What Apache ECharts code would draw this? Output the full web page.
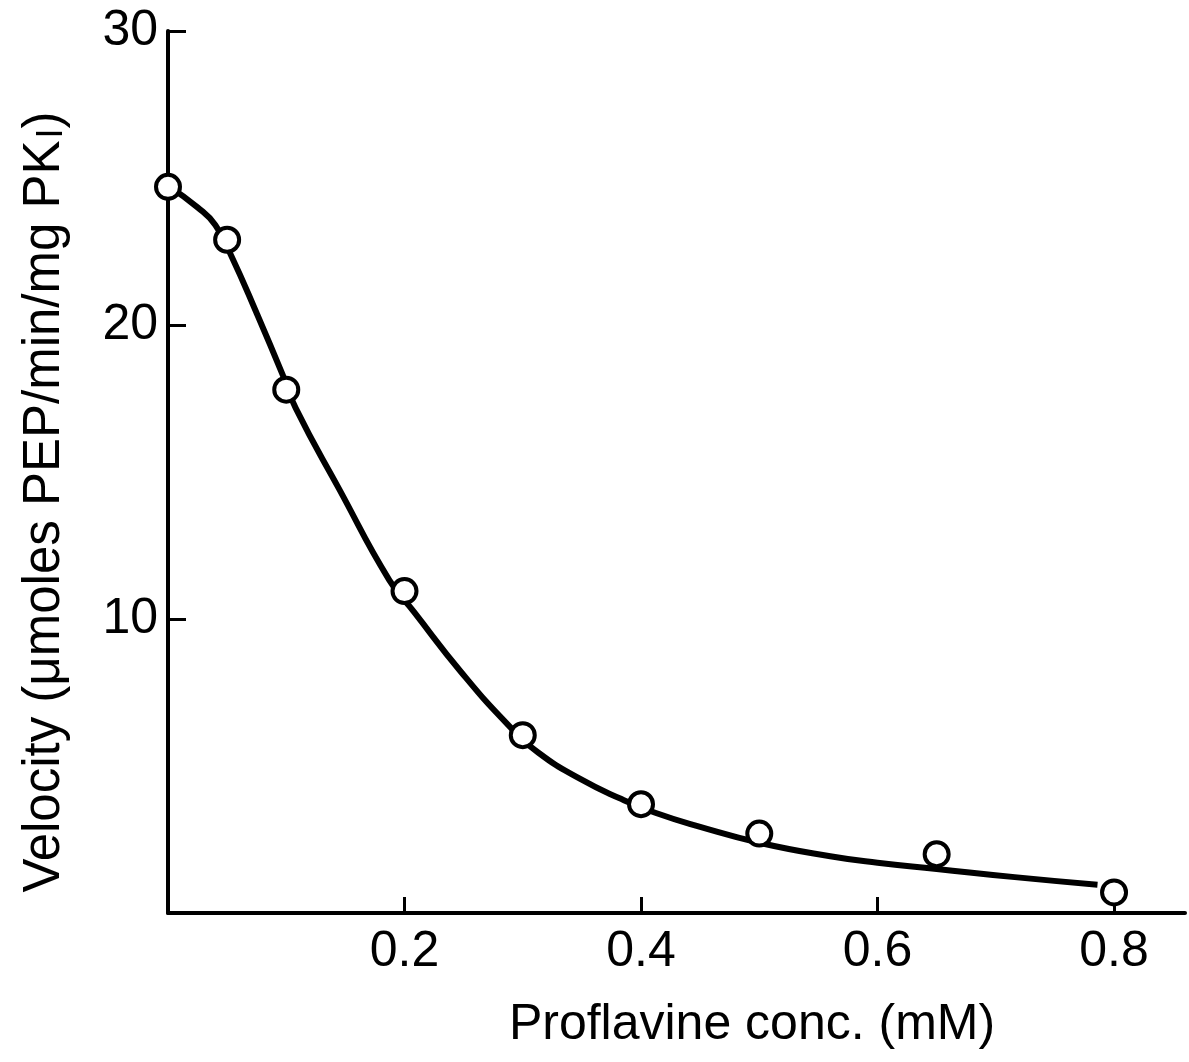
<!DOCTYPE html>
<html>
<head>
<meta charset="utf-8">
<script src="https://cdn.jsdelivr.net/npm/echarts@6/dist/echarts.min.js"></script>
<style>
html, body { margin: 0; padding: 0; background: #fff; }
#chart { width: 1189px; height: 1062px; }
</style>
</head>
<body>
<div id="chart"></div>
<script>
// measured points (open circles)
const concPoints = [0.0, 0.05, 0.1, 0.2, 0.3, 0.4, 0.5, 0.65, 0.8]
const velocityPoints = [24.7, 22.9, 17.8, 10.95, 6.05, 3.7, 2.7, 2.0, 0.7]

// hand-drawn fitted curve
const curveConc = [0, 0.025, 0.04, 0.053, 0.075, 0.097, 0.108, 0.145, 0.187, 0.208, 0.248, 0.288, 0.313, 0.349, 0.382, 0.412, 0.45, 0.5, 0.56, 0.6, 0.65, 0.716, 0.786]
const curveVelocity = [24.74, 24.0, 23.4, 22.4, 20.4, 18.3, 17.17, 14.4, 11.33, 10.24, 8.19, 6.38, 5.46, 4.55, 3.9, 3.41, 2.93, 2.39, 1.93, 1.71, 1.5, 1.22, 0.96]

const xTicks = [0.2, 0.4, 0.6, 0.8]
const yTicks = [10, 20, 30]

const font = '"Liberation Sans", "DejaVu Sans", sans-serif'

const chart = echarts.init(document.getElementById('chart'))
chart.setOption({
  animation: false,
  backgroundColor: '#fff',
  grid: { left: 168, right: 4, top: 31, bottom: 149 },
  xAxis: {
    type: 'value',
    min: 0,
    max: 0.86,
    axisLine: { lineStyle: { color: '#000', width: 4 } },
    axisTick: { inside: true, length: 16, lineStyle: { color: '#000', width: 3 }, customValues: xTicks },
    axisLabel: { color: '#000', fontSize: 50, fontFamily: font, margin: 14, customValues: xTicks, formatter: v => v.toFixed(1) },
    splitLine: { show: false }
  },
  yAxis: {
    type: 'value',
    min: 0,
    max: 30,
    axisLine: { show: true, lineStyle: { color: '#000', width: 4 } },
    axisTick: { show: true, inside: true, length: 18, lineStyle: { color: '#000', width: 3 }, customValues: yTicks },
    axisLabel: { color: '#000', fontSize: 50, fontFamily: font, margin: 10, customValues: yTicks },
    splitLine: { show: false }
  },
  graphic: [
    {
      type: 'text',
      x: 45,
      y: 502,
      rotation: Math.PI / 2,
      style: {
        text: 'Velocity (μmoles PEP/min/mg PK{sub|I})',
        fill: '#000',
        font: '51px ' + font,
        align: 'center',
        verticalAlign: 'middle',
        rich: { sub: { fontSize: 36, fontFamily: font, fill: '#000', padding: [14, 0, 0, 2] } }
      }
    },
    {
      type: 'text',
      x: 752,
      y: 1025,
      style: {
        text: 'Proflavine conc. (mM)',
        fill: '#000',
        font: '50px ' + font,
        align: 'center',
        verticalAlign: 'middle'
      }
    }
  ],
  series: [
    {
      type: 'line',
      data: curveConc.map((x, i) => [x, curveVelocity[i]]),
      smooth: 0.5,
      showSymbol: false,
      lineStyle: { color: '#000', width: 6 },
      z: 2
    },
    {
      type: 'scatter',
      data: concPoints.map((x, i) => [x, velocityPoints[i]]),
      symbol: 'circle',
      symbolSize: 24,
      itemStyle: { color: '#fff', borderColor: '#000', borderWidth: 4, opacity: 1 },
      z: 3
    }
  ]
})
</script>
</body>
</html>
